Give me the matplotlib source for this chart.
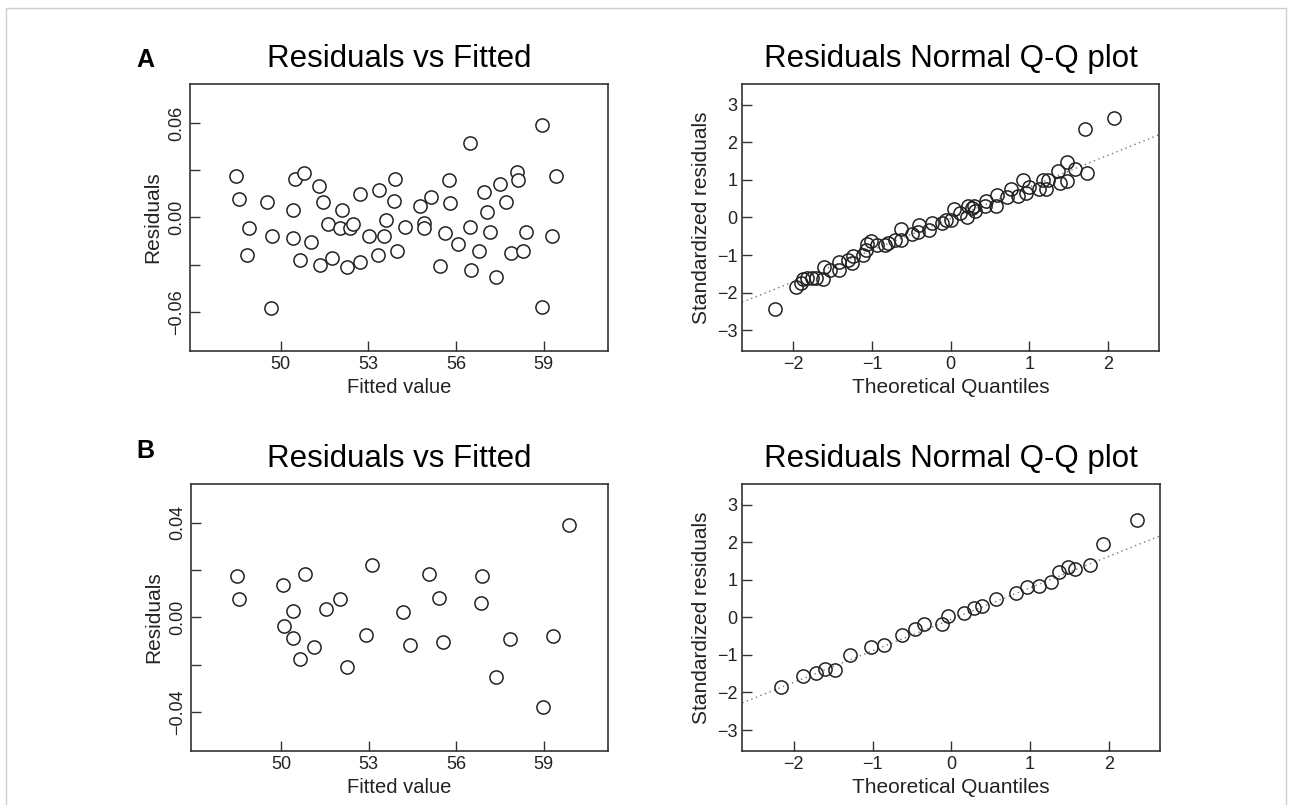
import numpy as np
import matplotlib.pyplot as plt
from matplotlib.patches import Rectangle

plt.rcParams['font.family'] = ['Liberation Sans', 'DejaVu Sans']

# Panel A, residuals vs fitted
fitted_a = [48.46, 48.57, 48.92, 48.84, 49.52, 49.71, 49.67, 50.42, 50.49, 50.41,
            50.65, 50.81, 51.05, 51.32, 51.45, 51.36, 51.61, 51.77, 52.09, 52.02,
            52.26, 52.36, 52.49, 52.73, 52.70, 53.01, 53.35, 53.32, 53.52, 53.60,
            53.88, 53.91, 53.97, 54.26, 54.78, 54.91, 54.91, 55.15, 55.46, 55.61,
            55.76, 55.78, 56.07, 56.48, 56.48, 56.50, 56.77, 56.95, 57.06, 57.15,
            57.37, 57.50, 57.72, 57.87, 58.10, 58.12, 58.30, 58.38, 58.94, 58.95,
            59.41, 59.30]
resid_a = [0.0263, 0.0120, -0.0066, -0.0239, 0.0098, -0.0115, -0.0574, 0.0045, 0.0248, -0.0132,
           -0.0269, 0.0280, -0.0158, 0.0201, 0.0100, -0.0303, -0.0041, -0.0258, 0.0045, -0.0070,
           -0.0318, -0.0066, -0.0041, 0.0152, -0.0286, -0.0115, 0.0177, -0.0237, -0.0115, -0.0019,
           0.0102, 0.0243, -0.0214, -0.0062, 0.0070, -0.0036, -0.0064, 0.0132, -0.0310, -0.0100,
           0.0237, 0.0094, -0.0167, 0.0476, -0.0062, -0.0335, -0.0211, 0.0162, 0.0032, -0.0094,
           -0.0378, 0.0211, 0.0098, -0.0228, 0.0292, 0.0241, -0.0211, -0.0092, 0.0587, -0.0570,
           0.0266, -0.0117]

# Panel A, normal Q-Q
theo_a = [-2.231, -1.964, -1.909, -1.884, -1.833, -1.769, -1.714, -1.625, -1.608, -1.537,
          -1.418, -1.418, -1.304, -1.253, -1.244, -1.122, -1.075, -1.070, -1.020, -0.935,
          -0.838, -0.796, -0.707, -0.635, -0.631, -0.491, -0.415, -0.406, -0.275, -0.233,
          -0.114, -0.055, 0.008, 0.038, 0.123, 0.207, 0.224, 0.265, 0.296, 0.309,
          0.440, 0.453, 0.580, 0.588, 0.715, 0.762, 0.855, 0.918, 0.952, 0.995,
          1.117, 1.172, 1.215, 1.236, 1.363, 1.384, 1.477, 1.481, 1.575, 1.702,
          1.731, 2.074]
std_a = [-2.436, -1.858, -1.751, -1.630, -1.600, -1.600, -1.610, -1.625, -1.307, -1.396,
         -1.396, -1.173, -1.129, -1.218, -1.013, -1.004, -0.870, -0.711, -0.631, -0.729,
         -0.729, -0.667, -0.596, -0.596, -0.311, -0.444, -0.382, -0.204, -0.338, -0.151,
         -0.151, -0.062, -0.062, 0.222, 0.116, 0.018, 0.311, 0.250, 0.311, 0.160,
         0.293, 0.427, 0.293, 0.587, 0.533, 0.756, 0.560, 1.004, 0.649, 0.800,
         0.764, 1.004, 0.764, 1.004, 1.227, 0.916, 0.978, 1.467, 1.298, 2.356,
         1.182, 2.649]
qq_line_a = (0.84, -0.027)  # slope, intercept

# Panel B, residuals vs fitted
fitted_b = [48.47, 48.57, 50.05, 50.10, 50.42, 50.41, 50.65, 50.81, 51.11, 51.52,
            52.02, 52.26, 52.92, 53.11, 54.18, 54.42, 55.05, 55.41, 55.54, 56.87,
            56.85, 57.36, 57.84, 58.98, 59.31, 59.88]
resid_b = [0.0174, 0.0078, 0.0136, -0.0037, 0.0028, -0.0089, -0.0178, 0.0185, -0.0124, 0.0037,
           0.0076, -0.0212, -0.0073, 0.0222, 0.0024, -0.0117, 0.0185, 0.0083, -0.0106, 0.0174,
           0.0059, -0.0252, -0.0090, -0.0379, -0.0081, 0.0393]

# Panel B, normal Q-Q
theo_b = [-2.157, -1.886, -1.721, -1.607, -1.480, -1.281, -1.023, -0.854, -0.626, -0.465,
          -0.347, -0.123, -0.047, 0.161, 0.288, 0.389, 0.571, 0.816, 0.964, 1.116,
          1.268, 1.362, 1.480, 1.577, 1.767, 1.928, 2.364]
std_b = [-1.855, -1.553, -1.491, -1.366, -1.402, -1.012, -0.799, -0.736, -0.479, -0.302,
         -0.169, -0.186, 0.027, 0.124, 0.248, 0.302, 0.488, 0.657, 0.816, 0.843,
         0.949, 1.207, 1.340, 1.287, 1.393, 1.943, 2.591]
qq_line_b = (0.838, -0.053)

fit_ticks = [50, 53, 56, 59]
resid_ticks_a = [-0.06, -0.03, 0.0, 0.03, 0.06]
resid_labels_a = ['\u22120.06', '', '0.00', '', '0.06']
resid_ticks_b = [-0.04, -0.02, 0.0, 0.02, 0.04]
resid_labels_b = ['\u22120.04', '', '0.00', '', '0.04']
qq_xticks = [-2, -1, 0, 1, 2]
qq_yticks = [-3, -2, -1, 0, 1, 2, 3]

edge = '#222222'


def style(ax):
    for s in ax.spines.values():
        s.set_color('#333333')
        s.set_linewidth(1.2)
    ax.tick_params(direction='in', length=7, width=1, color='#333333',
                   labelsize=13, labelcolor='#222222')


def resid_panel(ax, fx, rx, yt, yl, ylim):
    ax.plot(fx, rx, 'o', ms=9.5, mfc='white', mec=edge, mew=1.1)
    ax.set_xlim(46.9, 61.2)
    ax.set_ylim(-ylim, ylim)
    ax.set_xticks(fit_ticks)
    ax.set_yticks(yt)
    ax.set_yticklabels(yl, rotation=90, va='center')
    style(ax)
    ax.set_title('Residuals vs Fitted', fontsize=22.5, pad=12)
    ax.set_xlabel('Fitted value', fontsize=14.5, color='#222222')
    ax.set_ylabel('Residuals', fontsize=15, color='#222222')


def qq_panel(ax, tx, sx, line):
    ax.axline((0, line[1]), slope=line[0], ls=(0, (1, 2.5)), lw=1, color='#777777')
    ax.plot(tx, sx, 'o', ms=9.5, mfc='none', mec=edge, mew=1.1)
    ax.set_xlim(-2.655, 2.65)
    ax.set_ylim(-3.55, 3.55)
    ax.set_xticks(qq_xticks)
    ax.set_yticks(qq_yticks)
    style(ax)
    ax.set_title('Residuals Normal Q-Q plot', fontsize=22.5, pad=12)
    ax.set_xlabel('Theoretical Quantiles', fontsize=15, color='#222222')
    ax.set_ylabel('Standardized residuals', fontsize=15, color='#222222')


fig = plt.figure(figsize=(12.92, 8.05), dpi=100)
ax1 = fig.add_axes([0.1471, 0.564, 0.3235, 0.3317])
ax2 = fig.add_axes([0.5743, 0.564, 0.3228, 0.3317])
ax3 = fig.add_axes([0.1476, 0.0675, 0.3230, 0.3313])
ax4 = fig.add_axes([0.5745, 0.0675, 0.3233, 0.3313])

resid_panel(ax1, fitted_a, resid_a, resid_ticks_a, resid_labels_a, 0.085)
qq_panel(ax2, theo_a, std_a, qq_line_a)
resid_panel(ax3, fitted_b, resid_b, resid_ticks_b, resid_labels_b, 0.0565)
qq_panel(ax4, theo_b, std_b, qq_line_b)

fig.text(0.1125, 0.925, 'A', fontsize=18, fontweight='bold', va='center', ha='center')
fig.text(0.1125, 0.44, 'B', fontsize=18, fontweight='bold', va='center', ha='center')

# faint frame around the whole figure
fig.patches.append(Rectangle((0.005, -0.01), 0.99, 1.0, transform=fig.transFigure,
                             fill=False, ec='#cccccc', lw=1))

fig.savefig('out.png', dpi=100)
